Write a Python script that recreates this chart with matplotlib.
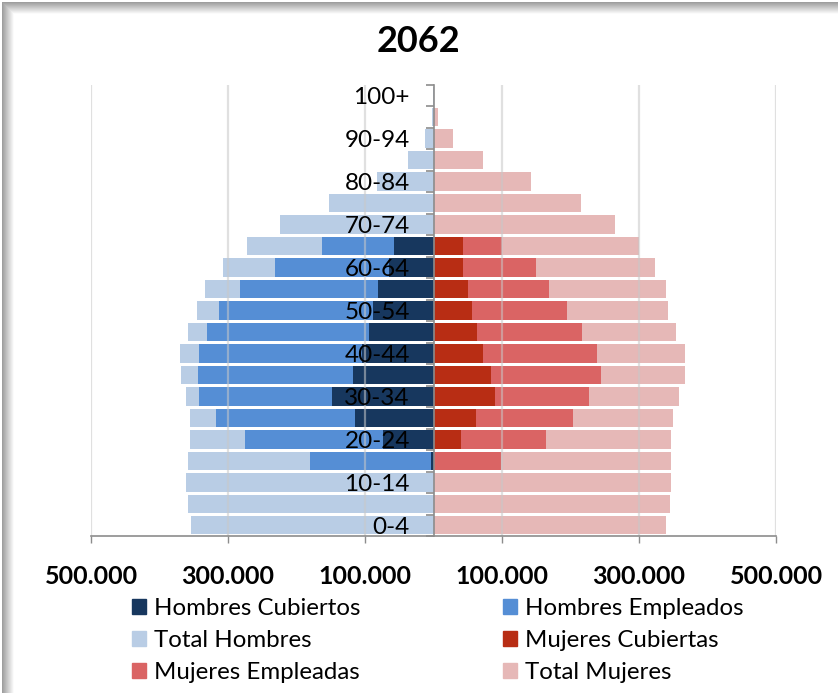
import matplotlib
matplotlib.use("Agg")
import matplotlib.pyplot as plt
from matplotlib.patches import Rectangle, Patch
from matplotlib.ticker import FuncFormatter, FixedLocator
import numpy as np

# Age groups, bottom to top
ages = ['0-4', '5-9', '10-14', '15-19', '20-24', '25-29', '30-34', '35-39',
        '40-44', '45-49', '50-54', '55-59', '60-64', '65-69', '70-74',
        '75-79', '80-84', '85-89', '90-94', '95-99', '100+']

# Men (persons)
total_hombres = [354000, 358000, 361000, 359000, 355000, 355000, 362000, 369000,
                 370000, 359000, 345000, 333000, 308000, 272000, 224000,
                 152000, 83000, 37500, 12000, 1500, 500]
hombres_empleados = [0, 0, 0, 181000, 275000, 318000, 342000, 344000,
                     343000, 330000, 313000, 283000, 231000, 163000, 0,
                     0, 0, 0, 0, 0, 0]
hombres_cubiertos = [0, 0, 0, 3000, 73000, 115000, 148000, 117000,
                     105000, 94000, 89000, 81000, 65000, 57000, 0,
                     0, 0, 0, 0, 0, 0]

# Women (persons)
total_mujeres = [340000, 345000, 347000, 346000, 346000, 350000, 358000, 367000,
                 367000, 354000, 342000, 339000, 323000, 300000, 265000,
                 216000, 142000, 72000, 29000, 7000, 0]
mujeres_empleadas = [0, 0, 0, 99000, 164000, 204000, 227000, 245000,
                     239000, 217000, 195000, 169000, 150000, 100000, 0,
                     0, 0, 0, 0, 0, 0]
mujeres_cubiertas = [0, 0, 0, 1000, 40000, 62000, 90000, 84000,
                     72000, 63000, 56000, 50000, 43000, 43000, 0,
                     0, 0, 0, 0, 0, 0]

title = "2062"
xticks = [-500000, -300000, -100000, 100000, 300000, 500000]

c_hc = "#17375E"
c_he = "#558ED5"
c_th = "#B9CDE5"
c_mc = "#B82D14"
c_me = "#DA6464"
c_tm = "#E6B8B7"

txt_font = ['Lato', 'DejaVu Sans']
num_font = ['Liberation Sans Narrow', 'DejaVu Sans Condensed', 'Lato', 'DejaVu Sans']

W, H = 838, 693
fig = plt.figure(figsize=(W / 100, H / 100), dpi=100)
fig.patch.set_facecolor("white")

# Chart-area frame with a soft shadow on the top and left edges
for i in range(12):
    g = 0.62 + 0.033 * i
    fig.patches.append(Rectangle(((14 - 12 + i) / W, -0.1), 1.2, (H - 14 + 12 - i) / H + 0.1,
                                 transform=fig.transFigure, facecolor=(g, g, g),
                                 edgecolor="none", zorder=-10 + i * 0.01))
fig.patches.append(Rectangle((14 / W, -0.1), 1.2, (H - 14) / H + 0.1,
                             transform=fig.transFigure, facecolor="white",
                             edgecolor="none", zorder=-9))

ax = fig.add_axes([91 / W, 1 - 536 / H, 685 / W, 451 / H])
ax.set_facecolor("none")

y = np.arange(len(ages))
bh = 0.86
neg = lambda v: [-a for a in v]

ax.barh(y, neg(total_hombres), height=bh, color=c_th, zorder=1)
ax.barh(y, neg(hombres_empleados), height=bh, color=c_he, zorder=1.1)
ax.barh(y, neg(hombres_cubiertos), height=bh, color=c_hc, zorder=1.2)
ax.barh(y, total_mujeres, height=bh, color=c_tm, zorder=1)
ax.barh(y, mujeres_empleadas, height=bh, color=c_me, zorder=1.1)
ax.barh(y, mujeres_cubiertas, height=bh, color=c_mc, zorder=1.2)

ax.set_xlim(-500000, 500000)
ax.set_ylim(-0.5, len(ages) - 0.5)

# Vertical gridlines
for gx in xticks:
    ax.axvline(gx, color="#c8c8c8", lw=1.6, alpha=0.55, zorder=1.5)

# x axis
ax.set_xticks(xticks)
ax.xaxis.set_major_formatter(FuncFormatter(lambda v, p: f"{int(abs(v)):,}".replace(",", ".")))
ax.tick_params(axis="x", direction="out", length=5, width=1, color="#8c8c8c", pad=16)
for lab in ax.get_xticklabels():
    lab.set_fontfamily(num_font)
    lab.set_fontweight("bold")
    lab.set_fontsize(18)

for s in ["top", "right"]:
    ax.spines[s].set_visible(False)
ax.spines["bottom"].set_color("#8c8c8c")
ax.spines["bottom"].set_linewidth(1.2)
ax.spines["left"].set_position(("data", 0))
ax.spines["left"].set_color("#8c8c8c")
ax.spines["left"].set_linewidth(1.2)
ax.spines["left"].set_zorder(3)

# y axis: tick marks at group boundaries, labels on every second group
ax.yaxis.set_major_locator(FixedLocator(np.arange(-0.5, len(ages), 1.0)))
ax.yaxis.set_major_formatter(FuncFormatter(lambda v, p: ""))
ax.tick_params(axis="y", which="major", direction="out", length=6, width=1.2, color="#8c8c8c")
ax.yaxis.set_minor_locator(FixedLocator(y[::2]))
ax.yaxis.set_minor_formatter(FuncFormatter(lambda v, p: ages[int(round(v))]))
ax.tick_params(axis="y", which="minor", length=0, pad=17)
for lab in ax.yaxis.get_minorticklabels():
    lab.set_fontfamily(txt_font)
    lab.set_fontsize(17.5)
ax.yaxis.set_zorder(4)

fig.text(418 / W, 1 - 42 / H, title, ha="center", va="center",
         fontsize=26, fontweight="bold", family=num_font)

handles = [Patch(color=c_hc, label="Hombres Cubiertos"),
           Patch(color=c_th, label="Total Hombres"),
           Patch(color=c_me, label="Mujeres Empleadas"),
           Patch(color=c_he, label="Hombres Empleados"),
           Patch(color=c_mc, label="Mujeres Cubiertas"),
           Patch(color=c_tm, label="Total Mujeres")]
leg = fig.legend(handles=handles, ncol=2, loc="upper left",
                 bbox_to_anchor=(132 / W, 1 - 598 / H), frameon=False,
                 prop={"family": txt_font, "size": 17.3},
                 handlelength=0.58, handleheight=0.58, handletextpad=0.35,
                 columnspacing=5.9, labelspacing=0.45, borderaxespad=0, borderpad=0)

fig.savefig("out.png", dpi=100)
